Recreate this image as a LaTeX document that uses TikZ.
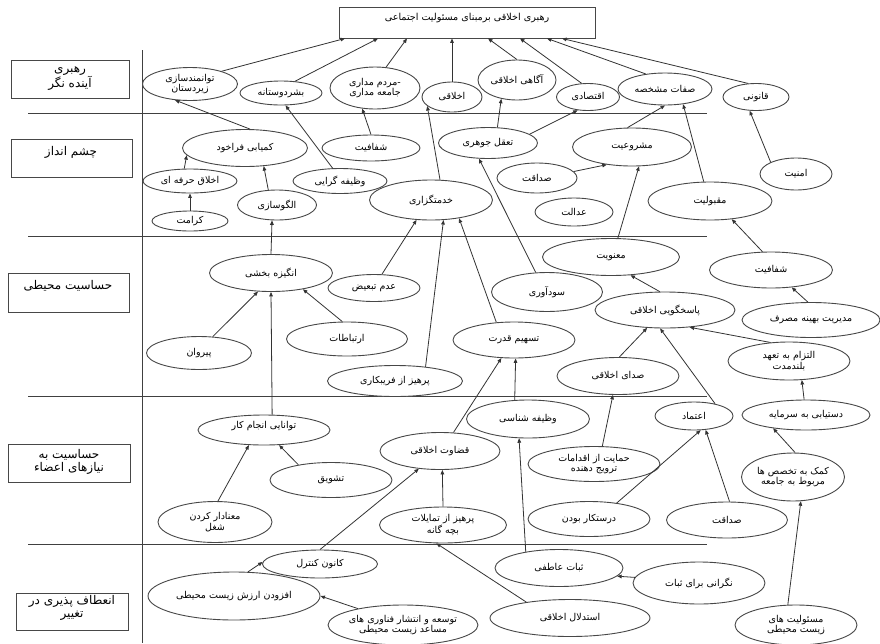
\documentclass[tikz,border=0pt]{standalone}
\usepackage{fontspec}
\TeXXeTstate=1
\newfontfamily\arabicfont[Script=Arabic]{DejaVu Sans}
\usetikzlibrary{shapes.geometric,arrows.meta}
\newcommand\fa[1]{{\arabicfont\beginR #1\endR}}
\begin{document}
\begin{tikzpicture}[x=1pt,y=-1pt,
  sz/.style 2 args={minimum width=#1pt,minimum height=#2pt},
  el/.style={ellipse,draw=black!72,line width=0.9pt,fill=white,inner xsep=-5pt,inner ysep=-1pt,align=center,
    font=\fontsize{9.5}{10.5}\selectfont},
  box/.style={rectangle,draw=black!72,line width=0.9pt,inner sep=0pt},
  txt/.style={inner sep=0pt,align=center,font=\fontsize{9.6}{11}\selectfont},
  ltxt/.style={inner sep=0pt,align=center,font=\fontsize{12}{12.5}\selectfont},
  sep/.style={draw=black!75,line width=0.9pt},
  arr/.style={draw=black!80,line width=0.8pt,-{Triangle[length=4.5pt,width=3.6pt]}}]
\useasboundingbox (0,0) rectangle (880,643);
\fill[white] (0,0) rectangle (880,643);
% separators
\coordinate (v1) at (142,50); \coordinate (v2) at (142,643);
\draw[sep] (v1) -- (v2);
\foreach \yy in {113,236,396,544} { \draw[sep] (28,\yy) -- (707,\yy); }
% title
\node[box,sz={256}{31}] (T) at (467,22.5) {};
\node[txt] (Tt) at (467,18) {\fa{رهبری اخلاقی برمبنای مسئولیت اجتماعی}};
% left labels
\node[box,sz={118}{38}] (L1) at (70,79) {};
\node[ltxt,font=\fontsize{12}{13.5}\selectfont] (L1t) at (70,78.5) {\fa{رهبری}\\\fa{آینده نگر}};
\node[box,sz={121}{38}] (L2) at (71.5,158) {};
\node[ltxt] (L2t) at (71,152) {\fa{چشم انداز}};
\node[box,sz={121}{39}] (L3) at (68.5,292.5) {};
\node[ltxt] (L3t) at (68,286) {\fa{حساسیت محیطی}};
\node[box,sz={122}{38}] (L4) at (69,463) {};
\node[ltxt] (L4t) at (69,462) {\fa{حساسیت به}\\\fa{نیازهای اعضاء}};
\node[box,sz={112}{37}] (L5) at (72,611.5) {};
\node[ltxt] (L5t) at (72,608) {\fa{انعطاف پذیری در}\\\fa{تغییر}};
% row 1
\node[el,sz={95}{33}] (n1) at (190,84) {\fa{توانمندسازی}\\\fa{زیردستان}};
\node[el,sz={82}{24}] (n2) at (281,93) {\fa{بشردوستانه}};
\node[el,sz={90}{42}] (n3) at (375,88) {\fa{-مردم مداری}\\\fa{جامعه مداری}};
\node[el,sz={60}{30}] (n4) at (452,97) {\fa{اخلاقی}};
\node[el,sz={78}{40}] (n5) at (517,80) {\fa{آگاهی اخلاقی}};
\node[el,sz={63}{27}] (n6) at (588,97) {\fa{اقتصادی}};
\node[el,sz={94}{32}] (n7) at (665,89) {\fa{صفات مشخصه}};
\node[el,sz={66}{27}] (n8) at (756,97) {\fa{قانونی}};
% row 2
\node[el,sz={125}{37}] (n9) at (245,148) {\fa{کمیابی فراخود}};
\node[el,sz={98}{26}] (n10) at (371,148) {\fa{شفافیت}};
\node[el,sz={99}{31}] (n11) at (488,143) {\fa{تعقل جوهری}};
\node[el,sz={119}{38}] (n12) at (632,147) {\fa{مشروعیت}};
\node[el,sz={94}{24}] (n13) at (190,181) {\fa{اخلاق حرفه ای}};
\node[el,sz={94}{25}] (n14) at (340,181) {\fa{وظیفه گرایی}};
\node[el,sz={80}{30}] (n15) at (537,178) {\fa{صداقت}};
\node[el,sz={72}{32}] (n16) at (796,174) {\fa{امنیت}};
\node[el,sz={79}{30}] (n17) at (277,205) {\fa{الگوسازی}};
\node[el,sz={123}{40}] (n18) at (431,200) {\fa{خدمتگزاری}};
\node[el,sz={78}{28}] (n19) at (574,212) {\fa{عدالت}};
\node[el,sz={124}{38}] (n20) at (710,201) {\fa{مقبولیت}};
\node[el,sz={76}{20}] (n21) at (190,221) {\fa{کرامت}};
% row 3
\node[el,sz={123}{37}] (n22) at (271,273) {\fa{انگیزه بخشی}};
\node[el,sz={137}{37}] (n23) at (611,257) {\fa{معنویت}};
\node[el,sz={123}{36}] (n24) at (771,270) {\fa{شفافیت}};
\node[el,sz={92}{27}] (n25) at (374,288) {\fa{عدم تبعیض}};
\node[el,sz={111}{39}] (n26) at (547,292) {\fa{سودآوری}};
\node[el,sz={140}{36}] (n27) at (665,310) {\fa{پاسخگویی اخلاقی}};
\node[el,sz={138}{35}] (n28) at (811,320) {\fa{مدیریت بهینه مصرف}};
\node[el,sz={121}{34}] (n29) at (347,339) {\fa{ارتباطات}};
\node[el,sz={105}{33}] (n30) at (199,353) {\fa{پیروان}};
\node[el,sz={122}{36}] (n31) at (514,340) {\fa{تسهیم قدرت}};
\node[el,sz={122}{37}] (n32) at (618,376) {\fa{صدای اخلاقی}};
\node[el,sz={122}{38}] (n33) at (789,361) {\fa{التزام به تعهد}\\\fa{بلندمدت}};
\node[el,sz={135}{31}] (n34) at (395,381) {\fa{پرهیز از فریبکاری}};
% row 4
\node[el,sz={132}{30}] (n35) at (264,430) {\fa{توانایی انجام کار}\\{}};
\node[el,sz={128}{30}] (n36) at (806,415) {\fa{دستیابی به سرمایه}};
\node[el,sz={78}{28}] (n37) at (694,416) {\fa{اعتماد}};
\node[el,sz={123}{38}] (n38) at (528,419) {\fa{وظیفه شناسی}};
\node[el,sz={120}{37}] (n39) at (440,451) {\fa{قضاوت اخلاقی}};
\node[el,sz={122}{35}] (n40) at (331,480) {\fa{تشویق}};
\node[el,sz={132}{35}] (n41) at (594,464) {\fa{حمایت از اقدامات}\\\fa{ترویج دهنده}};
\node[el,sz={103}{48}] (n42) at (793,477) {\fa{کمک به تخصص ها}\\\fa{مربوط به جامعه}};
\node[el,sz={114}{41}] (n43) at (215,522) {\fa{معنادار کردن}\\\fa{شغل}};
\node[el,sz={127}{36}] (n44) at (443,525) {\fa{پرهیز از تمایلات}\\\fa{بچه گانه}};
\node[el,sz={122}{35}] (n45) at (589,519) {\fa{درستکار بودن}};
\node[el,sz={121}{36}] (n46) at (727,520) {\fa{صداقت}};
% row 5
\node[el,sz={115}{28}] (n47) at (320,564) {\fa{کانون کنترل}};
\node[el,sz={128}{37}] (n48) at (559,568) {\fa{ثبات عاطفی}};
\node[el,sz={132}{42}] (n49) at (699,583) {\fa{نگرانی برای ثبات}};
\node[el,sz={172}{48}] (n50) at (234,596) {\fa{افزودن ارزش زیست محیطی}};
\node[el,sz={160}{37}] (n51) at (570,618) {\fa{استدلال اخلاقی}};
\node[el,sz={150}{40}] (n52) at (403,625) {\fa{توسعه و انتشار فناوری های}\\\fa{مساعد زیست محیطی}};
\node[el,sz={122}{40}] (n53) at (796,625) {\fa{مسئولیت های}\\\fa{زیست محیطی}};
% edges to title
\draw[arr] (n1.22) -- ([xshift=-122pt]T.south);
\draw[arr] (n2.40) -- ([xshift=-89pt]T.south);
\draw[arr] (n3.62) -- ([xshift=-60pt]T.south);
\draw[arr] (n4.north) -- ([xshift=-15pt]T.south);
\draw[arr] (n5.north) -- ([xshift=21pt]T.south);
\draw[arr] (n6.115) -- ([xshift=53pt]T.south);
\draw[arr] (n7.142) -- ([xshift=80pt]T.south);
\draw[arr] (n8.120) -- ([xshift=95pt]T.south);
% row 2 edges
\draw[arr] (n9.75) -- (n1.-133);
\draw[arr] (n14.120) -- (n2.-70);
\draw[arr] (n10.north) -- (n3.-122);
\draw[arr] (n18.66) -- (n4.200);
\draw[arr] (n11.59) -- (n5.-130);
\draw[arr] (n11.12) -- (n6.-128);
\draw[arr] (n12.103) -- (n7.south);
\draw[arr] (n20.108) -- (n7.-40);
\draw[arr] (n16.155) -- (n8.-115);
\draw[arr] (n15.10) -- (n12.-145);
\draw[arr] (n13.115) -- (n9.-173);
\draw[arr] (n17.120) -- (n9.-44);
\draw[arr] (n21.north) -- (n13.south);
\draw[arr] (n26.120) -- (n11.-120);
\draw[arr] (n23.70) -- (n12.-70);
\draw[arr] (n24.115) -- (n20.-40);
% row 3 edges
\draw[arr] (n22.north) -- (n17.-108);
\draw[arr] (n25.60) -- (n18.-126);
\draw[arr] (n34.25) -- (n18.-58);
\draw[arr] (n31.135) -- (n18.-33);
\draw[arr] (n27.106) -- (n23.-43);
\draw[arr] (n28.100) -- (n24.-40);
\draw[arr] (n33.135) -- (n27.-35);
\draw[arr] (n30.50) -- (n22.-125);
\draw[arr] (n29.105) -- (n22.-27);
\draw[arr] (n35.62) -- (n22.south);
\draw[arr] (n32.86) -- (n27.-135);
\draw[arr] (n37.30) -- (n27.-105);
\draw[arr] (n38.125) -- (n31.-85);
\draw[arr] (n39.54) -- (n31.-125);
\draw[arr] (n36.97) -- (n33.-56);
\draw[arr] (n42.85) -- (n36.-158);
\draw[arr] (n41.65) -- (n32.-105);
\draw[arr] (n45.30) -- (n37.-65);
\draw[arr] (n46.82) -- (n37.-50);
\draw[arr] (n53.112) -- (n42.-72);
% row 4/5 edges
\draw[arr] (n43.82) -- (n35.-135);
\draw[arr] (n40.155) -- (n35.-45);
\draw[arr] (n47.north) -- (n39.-140);
\draw[arr] (n44.north) -- (n39.-83);
\draw[arr] (n48.154) -- (n38.-115);
\draw[arr] (n51.160) -- (n44.-110);
\draw[arr] (n49.175) -- (n48.-8);
\draw[arr] (n50.60) -- (n47.178);
\draw[arr] (n52.160) -- (n50.0);
\end{tikzpicture}
\end{document}
